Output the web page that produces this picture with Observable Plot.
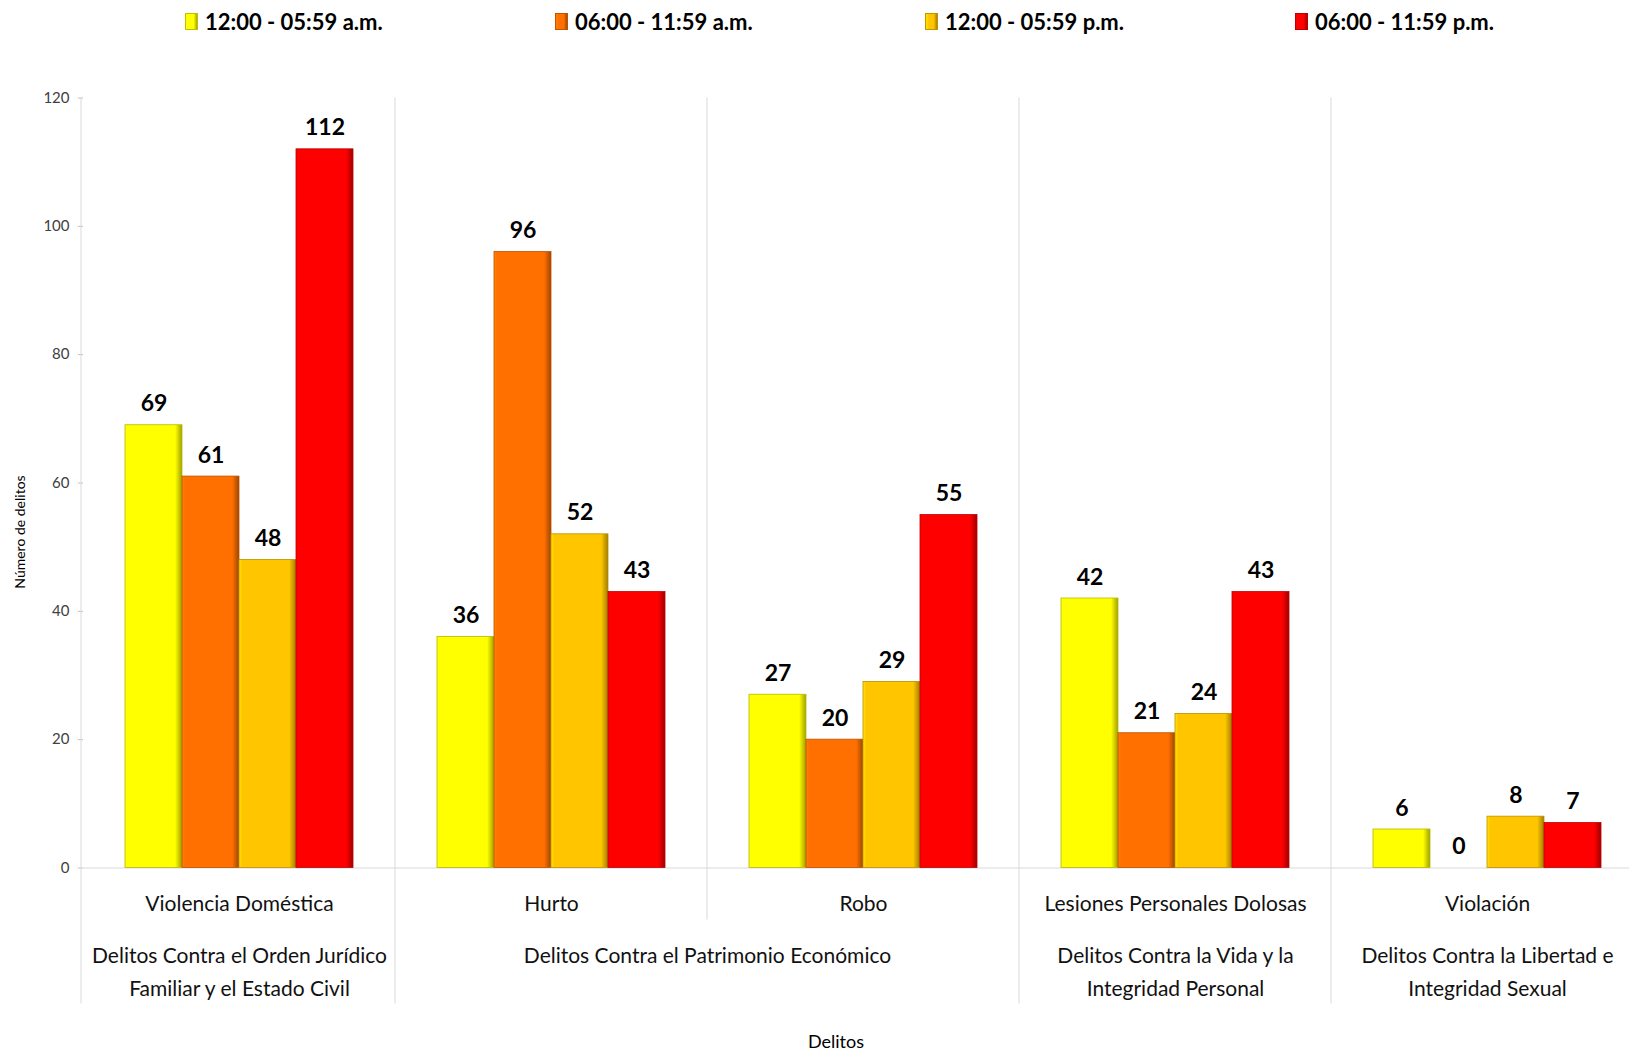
<!DOCTYPE html>
<html><head><meta charset="utf-8">
<script src="https://cdn.jsdelivr.net/npm/d3@7"></script>
<script src="https://cdn.jsdelivr.net/npm/@observablehq/plot@0.6"></script>
<style>
html,body{margin:0;padding:0;background:#fff;}
#wrap{position:relative;width:1629px;height:1052px;overflow:hidden;font-family:Lato,"Open Sans",sans-serif;}
#legend{position:absolute;top:0;left:0;width:1629px;height:50px;}
.li{position:absolute;top:8px;display:flex;align-items:center;font-weight:bold;font-size:22px;color:#000;white-space:nowrap;}
.sw{width:13px;height:17px;margin-right:7px;box-sizing:border-box;}
#chart{position:absolute;top:50px;left:0;width:1645px;}
#chart svg{max-width:none !important;}
#xtitle{position:absolute;top:1030px;left:736px;width:200px;text-align:center;font-size:18px;color:#000;}
</style>
</head><body>
<div id="wrap">
  <div id="legend"></div>
  <div id="chart"></div>
  <div id="xtitle">Delitos</div>
</div>
<script>
// ---- data ----
const subcategories = ["Violencia Doméstica", "Hurto", "Robo", "Lesiones Personales Dolosas", "Violación"];
const groups = ["Delitos Contra el Orden Jurídico\nFamiliar y el Estado Civil", "Delitos Contra el Patrimonio Económico", "Delitos Contra la Vida y la\nIntegridad Personal", "Delitos Contra la Libertad e\nIntegridad Sexual"];
const groupOf = [0, 1, 1, 2, 3];
const series = ["12:00 - 05:59 a.m.", "06:00 - 11:59 a.m.", "12:00 - 05:59 p.m.", "06:00 - 11:59 p.m."];
const madrugada = [69, 36, 27, 42, 6];
const manana = [61, 96, 20, 21, 0];
const tarde = [48, 52, 29, 24, 8];
const noche = [112, 43, 55, 43, 7];
const yTicks = [0, 20, 40, 60, 80, 100, 120];
const colors = ["#FFFF00", "#FF7000", "#FFC600", "#FF0000"];

const seriesValues = [madrugada, manana, tarde, noche];
const data = subcategories.flatMap((c, i) => series.map((s, j) => ({cat: c, series: s, value: seriesValues[j][i]})));
const groupRows = groups.map((g, k) => {
  const members = subcategories.filter((c, i) => groupOf[i] === k);
  return {label: g, fx: members[0], span: members.length};
});

// ---- legend ----
const legend = d3.select("#legend");
series.forEach((s, j) => {
  const it = legend.append("div").attr("class", "li").style("left", (185 + j * 370) + "px");
  const c = d3.color(colors[j]);
  it.append("div").attr("class", "sw")
    .style("background", `linear-gradient(90deg, ${c.brighter(0.4)} 0%, ${colors[j]} 25%, ${colors[j]} 70%, ${c.darker(1.2)} 100%)`)
    .style("border", `1px solid ${c.darker(0.8)}`);
  it.append("span").text(s);
});

// ---- chart ----
const W = 1645, H = 970;
const chart = Plot.plot({
  width: W, height: H,
  marginLeft: 81, marginRight: 0, marginTop: 47.5, marginBottom: 152.5,
  style: {fontFamily: "Lato, 'Open Sans', sans-serif", fontSize: "15px", color: "#404040", background: "#fff", overflow: "visible", maxWidth: "none"},
  fx: {domain: subcategories, padding: 0, axis: null, label: null},
  x: {domain: series, paddingInner: 0, paddingOuter: 0.71, axis: null},
  y: {domain: [0, 120], ticks: yTicks, tickSize: 5, tickPadding: 9, label: null, axis: "left"},
  color: {domain: series, range: colors},
  marks: [
    Plot.ruleY([0], {stroke: "#d9d9d9", strokeWidth: 1}),
    Plot.barY(data, {fx: "cat", x: "series", y: "value", fill: "series", inset: 0}),
    Plot.text(data, {fx: "cat", x: "series", y: "value", text: d => String(d.value), dy: -14, lineAnchor: "bottom", fontWeight: "bold", fontSize: 23, fill: "#000"}),
    Plot.text(subcategories, {fx: d => d, text: d => d, frameAnchor: "bottom", dy: 36, lineAnchor: "middle", fontSize: 21, fill: "#111"}),
    Plot.text(groupRows.filter(d => d.span === 1), {fx: "fx", text: "label", frameAnchor: "bottom", textAnchor: "middle", dy: 72, lineAnchor: "top", lineHeight: 1.55, fontSize: 21, fill: "#111"}),
    Plot.text(groupRows.filter(d => d.span === 2), {fx: "fx", text: "label", frameAnchor: "bottom-right", textAnchor: "middle", dy: 72, lineAnchor: "top", lineHeight: 1.55, fontSize: 21, fill: "#111"})
  ]
});
document.getElementById("chart").appendChild(chart);

// ---- decoration: bevel gradients, separators, axis line, y title ----
const svg = d3.select(chart);
const defs = svg.insert("defs", ":first-child");
colors.forEach((col, j) => {
  const c = d3.color(col);
  const g = defs.append("linearGradient").attr("id", "bev" + j).attr("x1", 0).attr("x2", 1).attr("y1", 0).attr("y2", 0);
  g.append("stop").attr("offset", "0%").attr("stop-color", c.brighter(0.5));
  g.append("stop").attr("offset", "5%").attr("stop-color", col);
  g.append("stop").attr("offset", "88%").attr("stop-color", col);
  g.append("stop").attr("offset", "100%").attr("stop-color", c.darker(1.3));
});
const colIndex = new Map(colors.map((c, j) => [d3.color(c).formatHex().toLowerCase(), j]));
svg.selectAll("rect").each(function() {
  const f = this.getAttribute("fill");
  if (!f) return;
  const col = d3.color(f);
  if (!col) return;
  const j = colIndex.get(col.formatHex().toLowerCase());
  if (j === undefined) return;
  d3.select(this).attr("fill", `url(#bev${j})`).attr("stroke", d3.color(colors[j]).darker(0.9)).attr("stroke-width", 0.8);
});
svg.selectAll('[aria-label="y-axis tick"] path').attr("stroke", "#bfbfbf");

const fxScale = chart.scale("fx");
const yScale = chart.scale("y");
const yTop = yScale.apply(120);
const yBase = yScale.apply(0);
const lines = svg.append("g").attr("stroke", "#d9d9d9").attr("stroke-width", 1);
lines.append("line").attr("x1", 81).attr("x2", 81).attr("y1", yTop).attr("y2", yBase + 136);
subcategories.forEach((c, i) => {
  if (i === 0) return;
  const x = fxScale.apply(c);
  const sameGroup = groupOf[i] === groupOf[i - 1];
  lines.append("line").attr("x1", x).attr("x2", x).attr("y1", yTop).attr("y2", yBase + (sameGroup ? 52 : 136));
});
svg.append("text")
  .attr("transform", `translate(21, ${532 - 50}) rotate(-90)`)
  .attr("text-anchor", "middle").attr("dominant-baseline", "middle")
  .attr("font-size", 14).attr("fill", "#000").text("Número de delitos");
</script>
</body></html>
